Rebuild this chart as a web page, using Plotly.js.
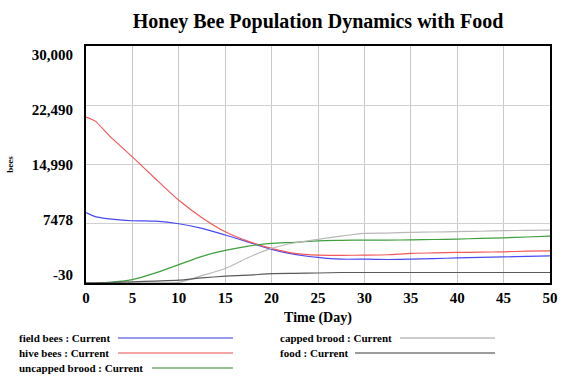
<!DOCTYPE html>
<html><head><meta charset="utf-8">
<script src="https://cdn.plot.ly/plotly-3.0.1.min.js"></script>
<style>html,body{margin:0;padding:0;background:#fff}#chart{width:577px;height:383px}</style>
</head><body><div id="chart"></div>
<script>
const days = [0,1,2.5,5,7.5,10,12.5,15,17.5,20,22.5,25,27.5,30,32.5,35,37.5,40,42.5,45,47.5,50];
const fieldBees = [8900,8380,8090,7860,7800,7480,6900,6050,5150,4230,3590,3210,2990,2990,2950,2990,3050,3160,3220,3280,3340,3410];
const hiveBees = [21000,20480,18650,15950,13150,10450,8250,6470,5250,4350,3720,3500,3480,3500,3550,3720,3780,3840,3880,3920,4000,4050];
const uncappedBrood = [0,20,60,400,1250,2300,3350,4100,4650,4990,5120,5320,5370,5410,5410,5430,5480,5540,5620,5700,5800,5920];
const cappedBrood = [0,0,0,0,0,60,900,1800,3210,4350,5070,5500,5920,6260,6300,6390,6430,6470,6530,6600,6640,6680];
const food = [0,0,30,120,220,330,620,830,960,1170,1200,1240,1300,1300,1300,1300,1300,1300,1300,1300,1300,1300];

const yTicks = [-30,7478,14990,22490,30000];
const yTickText = ['-30','7478','14,990','22,490','30,000'];
const xTicks = [0,5,10,15,20,25,30,35,40,45,50];

const seriesNames = ['field bees : Current','hive bees : Current','uncapped brood : Current','capped brood : Current','food : Current'];
const seriesData = [fieldBees,hiveBees,uncappedBrood,cappedBrood,food];
const lineColors = ['#4a4af5','#f25a5a','#3f9f3f','#b8b8b8','#5a5a5a'];
const legendColors = ['#7676e6','#f08888','#6fae6f','#bdbdbd','#7a7a7a'];

const serif = 'Liberation Serif';

const traces = seriesData.map((d,i)=>({
  x: days, y: d, type:'scatter', mode:'lines', name: seriesNames[i],
  line:{color: lineColors[i], width: 1.2, shape:'spline', smoothing:0.6}, showlegend:false
}));
const mid = (yTicks[0]+yTicks[yTicks.length-1])/2, k = 220/237;
traces.push({x:[0],y:[mid],yaxis:'y2',mode:'markers',marker:{opacity:0},hoverinfo:'skip',showlegend:false});

const legendPos = [
  {x:17,y:338,lx0:118,lx1:233},
  {x:17,y:353,lx0:118,lx1:233},
  {x:17,y:368,lx0:152,lx1:233},
  {x:278,y:338,lx0:400,lx1:495},
  {x:278,y:353,lx0:355,lx1:495}
];
const W=577,H=383;
const annotations = [], shapes = [];
seriesNames.forEach((n,i)=>{
  const p = legendPos[i];
  annotations.push({xref:'paper',yref:'paper',x:(p.x-86)/464,y:(283-p.y)/237,xanchor:'left',yanchor:'middle',
    text:'<b>'+n+'</b>',showarrow:false,font:{family:serif,size:11,color:'#000'}});
  shapes.push({type:'line',xref:'paper',yref:'paper',x0:(p.lx0-86)/464,x1:(p.lx1-86)/464,y0:(283-p.y)/237,y1:(283-p.y)/237,
    line:{color:legendColors[i],width:1.5}});
});

const layout = {
  width:W,height:H,
  margin:{l:86,r:27,t:46,b:100},
  paper_bgcolor:'#fff',plot_bgcolor:'#fff',
  font:{family:serif},
  title:{text:'<b>Honey Bee Population Dynamics with Food</b>',font:{family:serif,size:20,color:'#000'},
    x:318/W,xanchor:'center',xref:'container',yref:'container',y:1-21/H,yanchor:'middle'},
  xaxis:{range:[0,50],tickvals:xTicks,ticktext:xTicks.map(v=>'<b>'+v+'</b>'),showgrid:true,gridcolor:'#c8c8c8',gridwidth:1,
    zeroline:false,showline:true,linecolor:'#000',linewidth:2,mirror:true,ticks:'',ticklabelstandoff:0,
    tickfont:{family:serif,size:15,color:'#000'},
    title:{text:'<b>Time (Day)</b>',font:{family:serif,size:14,color:'#000'},standoff:7}},
  yaxis:{range:[-30,30000],tickvals:yTicks,ticktext:yTicks.map(()=>''),showgrid:true,gridcolor:'#d0d0d0',gridwidth:1,
    zeroline:false,showline:true,linecolor:'#000',linewidth:2,mirror:true,ticks:'',
    tickfont:{family:serif,size:13,color:'#000'},
    title:{text:'<b>bees</b>',font:{family:serif,size:9,color:'#000'},standoff:66}},
  yaxis2:{range:[-30,30000],overlaying:'y',side:'left',showgrid:false,zeroline:false,showline:false,ticks:'',
    tickvals:yTicks.map(v=>mid+(v-mid)*k),ticktext:yTickText.map(t=>'<b>'+t+'</b>'),ticklabelstandoff:12,
    tickfont:{family:serif,size:15,color:'#000'}},
  annotations:annotations,shapes:shapes
};
Plotly.newPlot('chart',traces,layout,{displayModeBar:false,staticPlot:true});
</script></body></html>
